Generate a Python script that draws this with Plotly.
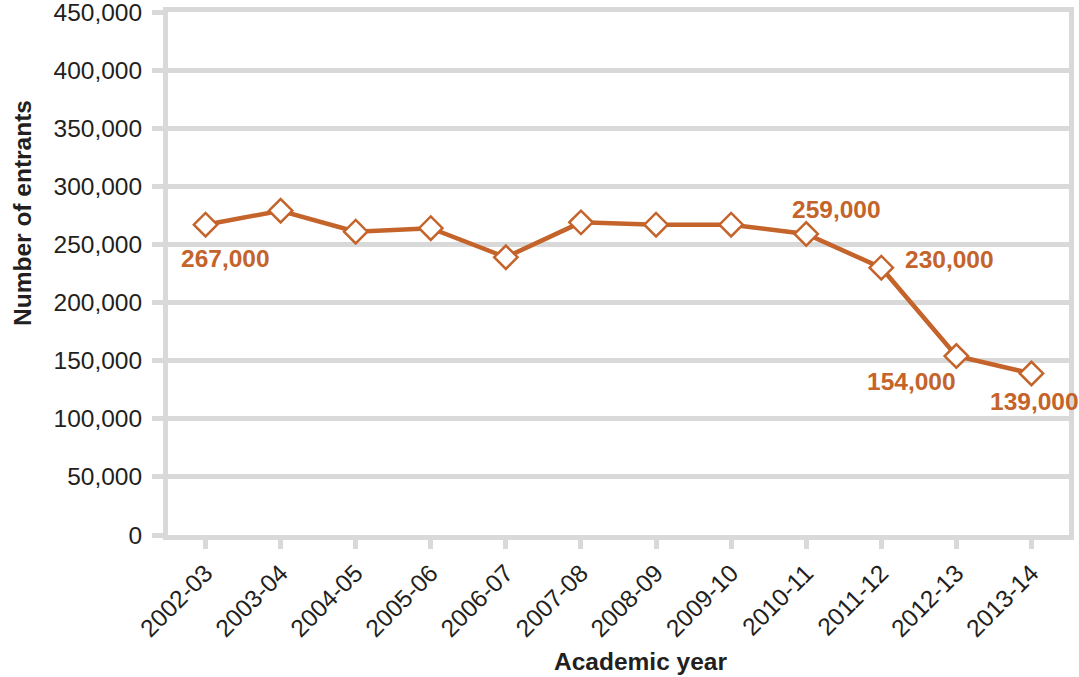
import plotly.graph_objects as go

# Entrants per academic year
years = ["2002-03", "2003-04", "2004-05", "2005-06", "2006-07", "2007-08",
         "2008-09", "2009-10", "2010-11", "2011-12", "2012-13", "2013-14"]
entrants = [267000, 279000, 261000, 264000, 239000, 269000,
            267000, 267000, 259000, 230000, 154000, 139000]

# Points that carry a value label, with pixel offsets for the label
labelled = {"2002-03": (20, -34), "2010-11": (30, 24), "2011-12": (68, 8),
            "2012-13": (-45, -25), "2013-14": (3, -28)}

y_ticks = list(range(0, 450001, 50000))

ORANGE = "#C4632A"
GRID = "#D9D9D9"
TEXT = "#231F20"
FONT = "Liberation Sans, Arial, Helvetica, sans-serif"
FS = 24.5

W, H = 1079, 677
L, R, T, B = 168, 10, 12, 142

fig = go.Figure()
fig.add_trace(go.Scatter(
    x=years, y=entrants, mode="lines+markers",
    line=dict(color=ORANGE, width=4.5),
    marker=dict(symbol="diamond", size=18, color="white",
                line=dict(color=ORANGE, width=2.5)),
    cliponaxis=False, showlegend=False,
))

for yr, (dx, dy) in labelled.items():
    v = entrants[years.index(yr)]
    fig.add_annotation(x=yr, y=v, xref="x", yref="y", text=f"{v:,}",
                       showarrow=False, xshift=dx, yshift=dy,
                       font=dict(family=FONT, size=FS, color=ORANGE, weight="bold"))

fig.update_xaxes(
    type="category", range=[-0.5, len(years) - 0.5], automargin=False,
    showgrid=False, showline=True, linecolor=GRID, linewidth=5, mirror=True,
    ticks="outside", ticklen=9, tickwidth=5, tickcolor=GRID,
    tickangle=-45, tickfont=dict(family=FONT, size=FS, color=TEXT),
    ticklabeloverflow="allow", zeroline=False,
)
fig.update_yaxes(
    range=[0, 450000], tickvals=y_ticks, automargin=False,
    ticktext=[f"{v:,}" for v in y_ticks],
    showgrid=True, gridcolor=GRID, gridwidth=5,
    showline=True, linecolor=GRID, linewidth=5, mirror=True,
    ticks="outside", ticklen=11, tickwidth=5, tickcolor=GRID,
    ticklabelstandoff=5, ticklabeloverflow="allow",
    tickfont=dict(family=FONT, size=FS, color=TEXT),
    zeroline=False,
)

# Axis titles (positions given in page pixels, mapped to the plot area)
def paper_x(px):
    return (px - L) / (W - L - R)

def paper_y(py):
    return (H - B - py) / (H - T - B)

fig.add_annotation(x=paper_x(640), y=paper_y(661), xref="paper", yref="paper",
                   xanchor="center", yanchor="middle",
                   text="Academic year", showarrow=False,
                   font=dict(family=FONT, size=FS, color=TEXT, weight="bold"))
fig.add_annotation(x=paper_x(22), y=paper_y(213), xref="paper", yref="paper",
                   xanchor="center", yanchor="middle",
                   text="Number of entrants", showarrow=False, textangle=-90,
                   font=dict(family=FONT, size=FS, color=TEXT, weight="bold"))

fig.update_layout(
    width=W, height=H,
    margin=dict(l=L, r=R, t=T, b=B, autoexpand=False),
    paper_bgcolor="white", plot_bgcolor="white",
)

fig.write_html("out.html")
